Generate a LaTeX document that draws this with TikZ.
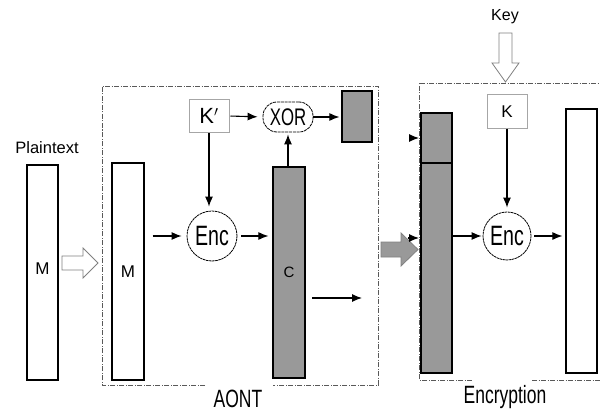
\documentclass[tikz,border=0pt]{standalone}
\usepackage{fontspec}
\setmainfont{Liberation Sans}
\usetikzlibrary{arrows.meta}

\definecolor{boxgray}{RGB}{153,153,153}
\newcommand{\narrowtext}[1]{\scalebox{0.7}[1]{#1}}

\begin{document}
\begin{tikzpicture}[
    x=1pt, y=-1pt,
    every node/.style={inner sep=0pt},
    block/.style={draw, line width=1.2pt, minimum width=31pt},
    grayblock/.style={block, fill=boxgray},
    keybox/.style={draw=gray!70, line width=1pt, minimum width=40pt, minimum height=33pt},
    encnode/.style={circle, draw, line width=0.8pt, dash pattern=on 2.5pt off 0.6pt, minimum size=50pt},
    xornode/.style={draw, line width=0.8pt, dash pattern=on 3pt off 0.8pt, rounded corners=14pt, minimum width=50pt, minimum height=30pt},
    flow/.style={-{Latex[length=10pt,width=8pt]}, line width=1.1pt},
    group line/.style={line width=0.9pt, gray!70!black, dash pattern=on 5pt off 1.5pt on 1pt off 1.5pt},
    fat arrow/.style={draw=gray, line width=0.8pt}
]
    \useasboundingbox (0,0) rectangle (600,412);

    % Plaintext
    \node[font=\fontsize{16.5}{16.5}\selectfont] (plainLbl) at (47,148) {Plaintext};
    \node[block, minimum height=215pt, font=\fontsize{17}{17}\selectfont] (plainM) at (42.5,272.5) {\raisebox{8pt}{M}};
    \draw[fat arrow, fill=white] (62,256) -- (83,256) -- (83,248) -- (98,263) -- (83,278) -- (83,270) -- (62,270) -- cycle;

    % AONT group
    \draw[group line] (205,385) -| (102,86) -| (378,385) -- (273,385);
    \node[anchor=base, font=\fontsize{25}{25}\selectfont] (aontLbl) at (238,407) {\narrowtext{AONT}};

    \node[block, minimum width=32pt, minimum height=217pt, font=\fontsize{17}{17}\selectfont] (aontM) at (128,271.5) {M};
    \node[keybox, font=\fontsize{22}{22}\selectfont] (kprime) at (209,116) {K$'$};
    \node[encnode, font=\fontsize{28}{28}\selectfont] (encA) at (212,236) {\narrowtext{Enc}};
    \node[xornode, font=\fontsize{24}{24}\selectfont] (xorop) at (288,117) {\narrowtext{XOR}};
    \node[grayblock, minimum width=30pt, minimum height=51pt] (xorout) at (357,116.5) {};
    \node[grayblock, minimum width=32pt, minimum height=211pt, font=\fontsize{15}{15}\selectfont] (cbox) at (289,272.5) {C};

    \draw[flow, shorten <=8pt, shorten >=5pt] (aontM.east |- encA) -- (encA.west);
    \draw[flow, shorten >=4pt] (kprime.south) -- (kprime.south |- encA.north);
    \draw[flow, shorten <=1pt, shorten >=5pt] (kprime.east) -- (xorop.west);
    \draw[flow, shorten >=2pt] (xorop.east) -- (xorop.east -| xorout.west);
    \draw[flow, shorten <=4pt, shorten >=4pt] (encA.east) -- (encA.east -| cbox.west);
    \draw[flow, shorten >=2pt] (cbox.north -| xorop.south) -- (xorop.south);
    \coordinate (cOutA) at (312,298);
    \coordinate (cOutB) at (362,298);
    \draw[flow] (cOutA) -- (cOutB);

    % transfer between the groups
    \draw[fat arrow, fill=boxgray] (381,242) -- (401,242) -- (401,233) -- (418,249.5) -- (401,266) -- (401,257) -- (381,257) -- cycle;
    \coordinate (tipA) at (410,138);
    \coordinate (tipB) at (408,238);
    \draw[flow] (tipA) -- (419,138);
    \draw[flow] (tipB) -- (419,238);

    % Encryption group
    \draw[group line] (472,380) -| (419,83) -- (601,83);
    \draw[group line] (532,380) -- (601,380);
    \node[anchor=base, font=\fontsize{25}{25}\selectfont] (encLbl) at (505,403) {\narrowtext{Encryption}};

    \node[font=\fontsize{16}{16}\selectfont] (keyLbl) at (505,17) {Key};
    \draw[fat arrow, fill=white] (499,33) -- (512,33) -- (512,63) -- (519,63) -- (505.5,82) -- (492,63) -- (499,63) -- cycle;
    \node[keybox, font=\fontsize{17}{17}\selectfont] (keyK) at (507,111.5) {K};
    \node[encnode, minimum size=48pt, font=\fontsize{28}{28}\selectfont] (encB) at (507,236) {\narrowtext{Enc}};

    \node[grayblock, minimum height=50pt] (stackTop) at (436.5,138) {};
    \node[grayblock, minimum height=210pt] (stackBot) at (436.5,268) {};
    \node[block, minimum height=264pt] (cipherOut) at (581.5,241) {};

    \draw[flow, shorten >=4pt] (keyK.south) -- (encB.north);
    \draw[flow, shorten >=1pt] (stackBot.east |- encB) -- (encB.west);
    \draw[flow, shorten <=3pt, shorten >=3pt] (encB.east) -- (encB.east -| cipherOut.west);

\end{tikzpicture}
\end{document}
